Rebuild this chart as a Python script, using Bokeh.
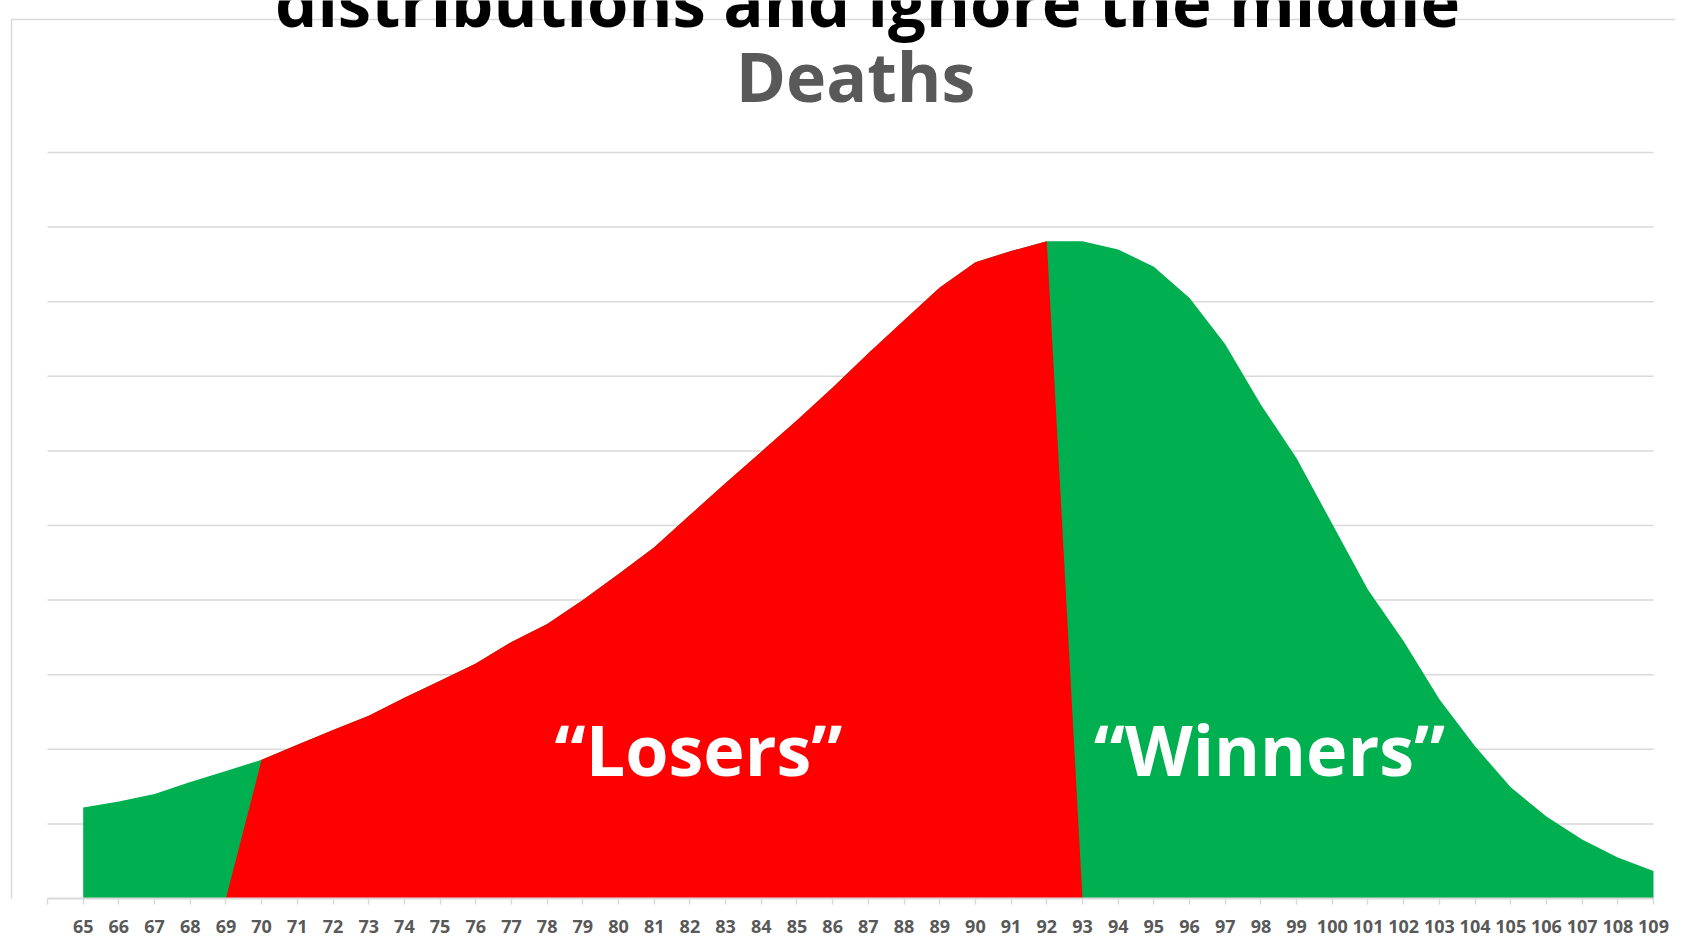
from bokeh.plotting import figure
from bokeh.models import Range1d, FixedTicker
from bokeh.core.properties import value
from bokeh.embed import file_html
from bokeh.resources import INLINE

# ---------------- data ----------------
ages = list(range(65, 110))
deaths = [1220, 1300, 1400, 1560, 1710, 1860, 2060, 2260, 2450, 2690,
          2920, 3150, 3440, 3680, 4000, 4350, 4710, 5140, 5570, 5990,
          6410, 6850, 7310, 7750, 8190, 8530, 8680, 8810, 8810, 8700,
          8470, 8050, 7430, 6620, 5900, 5020, 4140, 3450, 2670, 2040,
          1490, 1100, 790, 550, 370]
losers_ages = list(range(69, 94))
losers = [0] + deaths[5:28] + [0]          # ages 70..92, dropping to 0 at 69 and 93
tick_values = list(range(64, 110))
tick_labels = {64: " "}
grid_values = list(range(1000, 10001, 1000))

title_text = "distributions and ignore the middle"
chart_title = "Deaths"
label_losers = "\u201cLosers\u201d"
label_winners = "\u201cWinners\u201d"

GREEN = "#00B050"
RED = "#FF0000"
GRID = "#D9D9D9"
GREY_TEXT = "#595959"

# ---------------- layout ----------------
W, H = 1675, 942
PX_PER_CAT = 35.689      # pixels per category
PX_PER_UNIT = 0.0746     # pixels per death
LEFT_PX = 47             # pixel position of category 64 inside the canvas
BOTTOM_PX = 898          # pixel position of the zero line inside the canvas

x_start = 64 - LEFT_PX / PX_PER_CAT
x_end = x_start + W / PX_PER_CAT
y_end = BOTTOM_PX / PX_PER_UNIT


def xpx(px):
    return 64 + (px - LEFT_PX) / PX_PER_CAT


def ypx(px):
    return (BOTTOM_PX - px) / PX_PER_UNIT


p = figure(width=W, height=H, output_backend="svg", toolbar_location=None,
           x_range=Range1d(x_start, x_end), y_range=Range1d(0, y_end),
           y_axis_location=None)
p.min_border = 0
p.min_border_left = 0
p.min_border_right = 0
p.min_border_top = 0
p.min_border_bottom = H - BOTTOM_PX
p.outline_line_color = None
p.background_fill_color = "white"
p.border_fill_color = "white"
p.xgrid.visible = False
p.ygrid.visible = False

# chart-area border (left and top)
p.line(x=[xpx(11), xpx(11), x_end], y=[0, ypx(19), ypx(19)],
       line_color=GRID, line_width=1.5)

# horizontal gridlines
p.segment(x0=[64] * len(grid_values), x1=[109] * len(grid_values),
          y0=grid_values, y1=grid_values, line_color=GRID, line_width=1.5)

# areas
p.varea(x=ages, y1=[0] * len(ages), y2=deaths, fill_color=GREEN)
p.varea(x=losers_ages, y1=[0] * len(losers_ages), y2=losers, fill_color=RED)

# x axis
ax = p.xaxis[0]
ax.ticker = FixedTicker(ticks=tick_values)
ax.major_label_overrides = tick_labels
ax.bounds = (64, 109)
ax.axis_line_color = GRID
ax.axis_line_width = 2
ax.major_tick_line_color = GRID
ax.major_tick_line_width = 1.5
ax.major_tick_out = 6
ax.major_tick_in = 0
ax.minor_tick_line_color = None
ax.major_label_text_font = "Open Sans"
ax.major_label_text_font_style = "bold"
ax.major_label_text_font_size = "18px"
ax.major_label_text_color = GREY_TEXT
ax.major_label_standoff = 9

# texts
p.text(x=[xpx(867)], y=[ypx(0.5)], text=[title_text], text_font=value("Open Sans"),
       text_font_style="bold", text_font_size="67px", text_color="black",
       text_align="center", text_baseline="alphabetic")
p.text(x=[xpx(855)], y=[ypx(75)], text=[chart_title], text_font=value("Open Sans"),
       text_font_style="bold", text_font_size="68px", text_color=GREY_TEXT,
       text_align="center", text_baseline="alphabetic")
p.text(x=[xpx(698), xpx(1269)], y=[ypx(748), ypx(748)],
       text=[label_losers, label_winners],
       text_font=value("Open Sans"), text_font_style="bold",
       text_font_size="70px", text_color="white",
       text_align="center", text_baseline="alphabetic")

open("out.html", "w").write(file_html(p, INLINE))
